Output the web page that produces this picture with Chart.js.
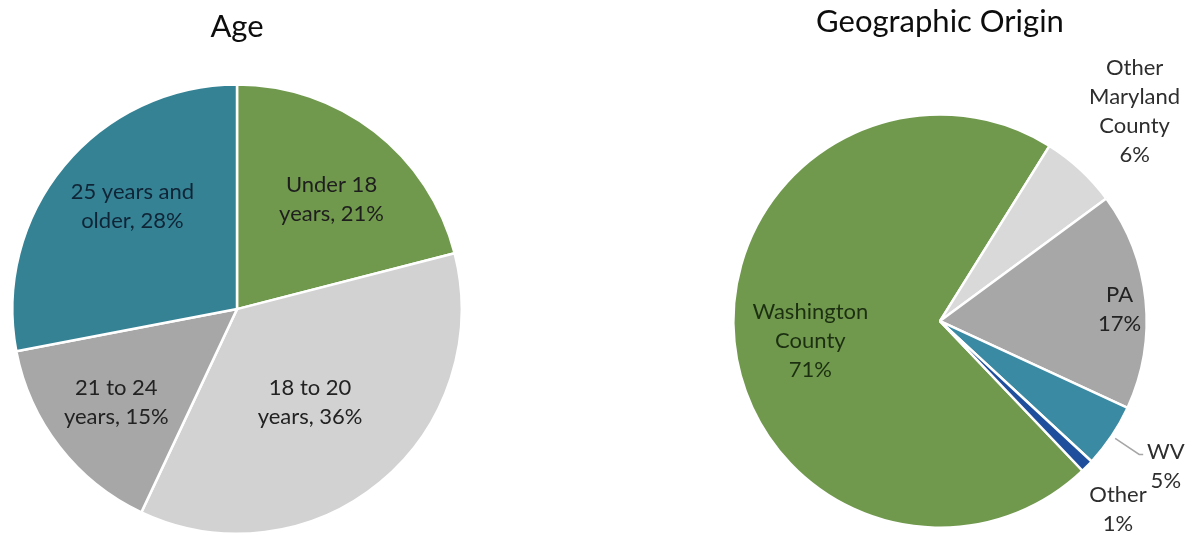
<!DOCTYPE html>
<html>
<head>
<meta charset="utf-8">
<script src="https://cdn.jsdelivr.net/npm/chart.js@4.4.1/dist/chart.umd.min.js"></script>
<style>
  html, body { margin: 0; padding: 0; background: #fff; }
  body { width: 1188px; height: 537px; position: relative; overflow: hidden; }
  #agePie { position: absolute; left: 0; top: 0; }
  #geoPie { position: absolute; left: 700px; top: 0; }
</style>
</head>
<body>
<canvas id="agePie" width="474" height="537"></canvas>
<canvas id="geoPie" width="488" height="537"></canvas>
<script>
var ageLabels = [['Under 18', 'years'], ['18 to 20', 'years'], ['21 to 24', 'years'], ['25 years and', 'older']];
var agePercents = [21, 36, 15, 28];
var ageColors = ['#70994d', '#d2d2d2', '#a7a7a7', '#358295'];

var geoLabels = [['Washington', 'County'], ['Other', 'Maryland', 'County'], ['PA'], ['WV'], ['Other']];
var geoPercents = [71, 6, 17, 5, 1];
var geoColors = ['#70994d', '#d9d9d9', '#a7a7a7', '#3a8aa3', '#1f4f9c'];

Chart.defaults.font.family = 'Lato';
Chart.defaults.animation = false;

// text for every slice, placed from the arc geometry
var sliceLabels = {
    id: 'sliceLabels',
    afterDatasetsDraw: function (chart, args, opts) {
        var ctx = chart.ctx;
        var meta = chart.getDatasetMeta(0);
        var values = chart.data.datasets[0].data;
        ctx.save();
        ctx.font = opts.size + 'px ' + opts.family;
        ctx.textAlign = 'center';
        ctx.textBaseline = 'middle';
        meta.data.forEach(function (arc, i) {
            var p = arc.getProps(['x', 'y', 'startAngle', 'endAngle', 'outerRadius']);
            var mid = (p.startAngle + p.endAngle) / 2;
            var a = mid + (opts.shift[i] || 0) * Math.PI / 180;
            var cx = p.x + Math.cos(a) * p.outerRadius * opts.radius[i];
            var cy = p.y + Math.sin(a) * p.outerRadius * opts.radius[i];

            var name = chart.data.labels[i].slice();
            var lines;
            if (opts.joinValue) {
                lines = name.slice(0, -1);
                lines.push(name[name.length - 1] + ', ' + values[i] + '%');
            } else {
                lines = name.concat([values[i] + '%']);
            }
            var top = cy - (lines.length - 1) * opts.lineHeight / 2;
            ctx.fillStyle = opts.colors[i];
            lines.forEach(function (t, k) {
                ctx.fillText(t, cx, top + k * opts.lineHeight);
            });

            if (opts.leader && opts.leader.index === i) {
                var L = opts.leader;
                var x0 = p.x + Math.cos(mid) * p.outerRadius * L.from;
                var y0 = p.y + Math.sin(mid) * p.outerRadius * L.from;
                var x1 = p.x + Math.cos(mid) * p.outerRadius * L.elbow;
                var y1 = p.y + Math.sin(mid) * p.outerRadius * L.elbow;
                ctx.strokeStyle = '#a6a6a6';
                ctx.lineWidth = 1.5;
                ctx.beginPath();
                ctx.moveTo(x0, y0);
                ctx.lineTo(x1, y1);
                ctx.lineTo(x1 + L.tail, y1);
                ctx.stroke();
            }
        });
        ctx.restore();
    }
};

new Chart(document.getElementById('agePie'), {
    type: 'pie',
    data: {
        labels: ageLabels,
        datasets: [{
            data: agePercents,
            backgroundColor: ageColors,
            borderColor: '#ffffff',
            borderWidth: 2.5
        }]
    },
    plugins: [sliceLabels],
    options: {
        responsive: false,
        rotation: 0,
        layout: { padding: { left: 11, right: 11, top: 0, bottom: 2 } },
        plugins: {
            legend: { display: false },
            tooltip: { enabled: false },
            title: {
                display: true,
                text: 'Age',
                color: '#0d0d0d',
                font: { size: 31, weight: 'normal' },
                padding: { top: 8, bottom: 38 }
            },
            sliceLabels: {
                family: 'Lato',
                size: 22,
                lineHeight: 29,
                joinValue: true,
                radius: [0.644, 0.527, 0.68, 0.654],
                shift: [3, 1.5, 0, 5],
                colors: ['#1e1e1e', '#222222', '#222222', '#0f2536']
            }
        }
    }
});

new Chart(document.getElementById('geoPie'), {
    type: 'pie',
    data: {
        labels: geoLabels,
        datasets: [{
            data: geoPercents,
            backgroundColor: geoColors,
            borderColor: '#ffffff',
            borderWidth: 2.5
        }]
    },
    plugins: [sliceLabels],
    options: {
        responsive: false,
        rotation: 136.4,
        layout: { padding: { left: 32, right: 40, top: 0, bottom: 8 } },
        plugins: {
            legend: { display: false },
            tooltip: { enabled: false },
            title: {
                display: true,
                text: 'Geographic Origin',
                color: '#0d0d0d',
                font: { size: 31, weight: 'normal' },
                padding: { top: 3, bottom: 73 }
            },
            sliceLabels: {
                family: 'Lato',
                size: 22,
                lineHeight: 29,
                joinValue: false,
                radius: [0.635, 1.386, 0.871, 1.30, 1.254],
                shift: [-3, 0, 2, -1, 2],
                colors: ['#1c3011', '#2e2e2e', '#222222', '#2e2e2e', '#2e2e2e'],
                leader: { index: 3, from: 1.02, elbow: 1.16, tail: 4 }
            }
        }
    }
});
</script>
</body>
</html>
